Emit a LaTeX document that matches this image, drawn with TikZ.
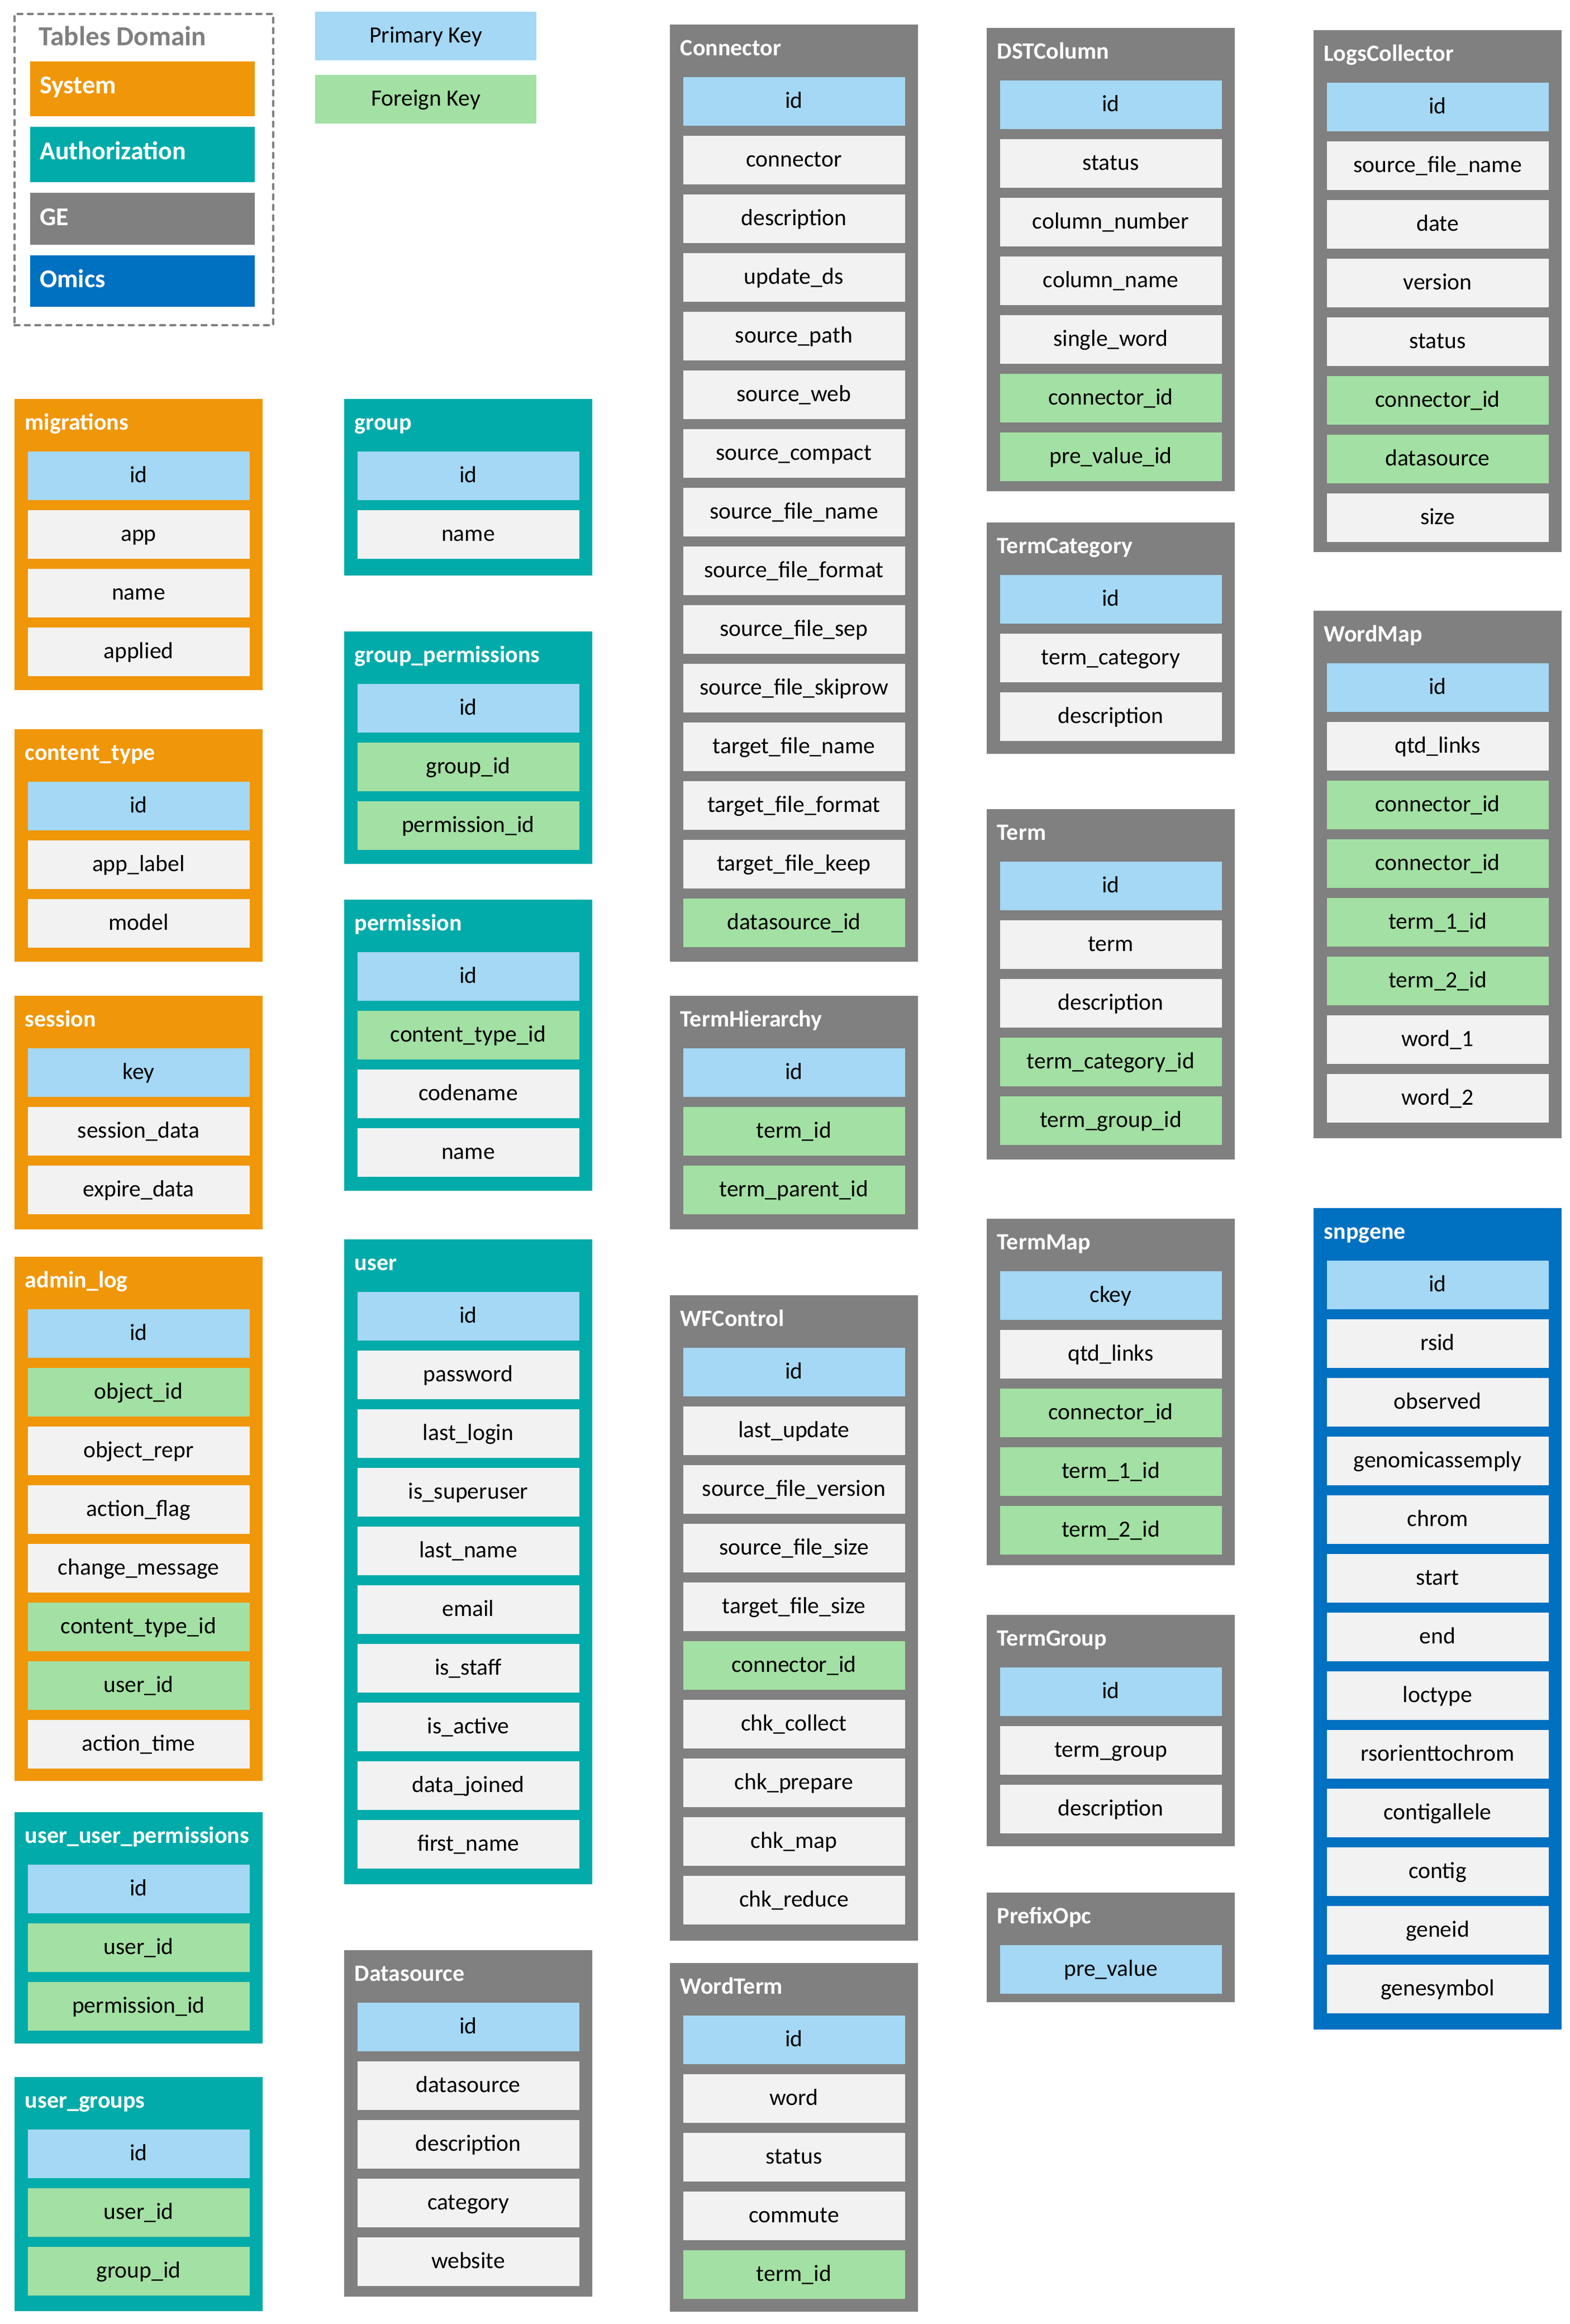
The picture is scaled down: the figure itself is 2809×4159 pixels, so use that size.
\documentclass[tikz,border=0pt]{standalone}
\usepackage{fontspec}
\setmainfont{Carlito}
\definecolor{sysc}{HTML}{F09609}
\definecolor{authc}{HTML}{00ABA9}
\definecolor{gec}{HTML}{808080}
\definecolor{omc}{HTML}{0070C0}
\definecolor{fldp}{HTML}{A4D8F4}
\definecolor{fldf}{HTML}{A3E0A3}
\definecolor{fldn}{HTML}{F2F2F2}
\tikzset{
  tbox/.style={anchor=north west, inner sep=0pt, outer sep=0pt, minimum width=111pt, draw=none},
  fieldbox/.style={inner sep=0pt, outer sep=0pt, minimum width=99.25pt, minimum height=21.75pt,
    text height=7.25pt, text depth=1.25pt, font=\fontsize{10.4}{12}\selectfont, text=black},
  ttitle/.style={anchor=base west, inner sep=0pt, text=white, font=\fontsize{10.5}{12}\selectfont\bfseries},
  legbox/.style={anchor=north west, inner sep=0pt, outer sep=0pt, minimum width=100.5pt, draw=none},
  leglabel/.style={anchor=base west, inner sep=0pt, text=white, font=\fontsize{11.5}{13}\selectfont\bfseries},
}
\newcommand{\dbtable}[7]{%
  \node[tbox, fill=#5, minimum height={(#4-#3)*0.25pt}] (#1) at (#2,#3) {};
  \node[ttitle] (#1-title) at (#2+18,#3+55) {#6};
  \foreach \ty/\fn [count=\i from 0] in {#7} {
    \node[fieldbox, fill=fld\ty] (#1-f\i) at (#2+222,#3+137.5+105*\i) {\fn};
  }%
}
\begin{document}
\begin{tikzpicture}[x=0.25pt,y=-0.25pt]
\useasboundingbox[fill=white] (0,0) rectangle (2809,4159);

% ---------- legend ----------
\node[draw=gec, line width=1pt, dash pattern=on 2.2pt off 2.45pt, line cap=round,
  anchor=north west, inner sep=0pt, minimum width={(487-24)*0.25pt}, minimum height={(580-22.5)*0.25pt}]
  (legend) at (24,22.5) {};
\node[anchor=base west, inner sep=0pt, text=gec, font=\fontsize{12.3}{14}\selectfont\bfseries]
  (legtitle) at (69,81.5) {Tables Domain};
\node[legbox, fill=sysc, minimum height={(208-109.5)*0.25pt}] (lsys) at (54,109.5) {};
\node[leglabel] (lsys-t) at (70.5,167.5) {System};
\node[legbox, fill=authc, minimum height={(326-227)*0.25pt}] (lauth) at (54,227) {};
\node[leglabel] (lauth-t) at (70.5,285) {Authorization};
\node[legbox, fill=gec, minimum height={(437.5-345)*0.25pt}] (lge) at (54,345) {};
\node[leglabel] (lge-t) at (70.5,403) {GE};
\node[legbox, fill=omc, minimum height={(549-456.5)*0.25pt}] (lom) at (54,456.5) {};
\node[leglabel] (lom-t) at (70.5,514.5) {Omics};
\node[fieldbox, fill=fldp, minimum width=99.1pt] (pk) at (762,64) {Primary Key};
\node[fieldbox, fill=fldf, minimum width=99.1pt] (fk) at (762,177.5) {Foreign Key};

% ---------- column 1 ----------
\dbtable{migrations}{26}{714}{1235}{sysc}{migrations}{p/id, n/app, n/name, n/applied}
\dbtable{contenttype}{26}{1305}{1721}{sysc}{content\_type}{p/id, n/app\_label, n/model}
\dbtable{session}{26}{1782}{2200}{sysc}{session}{p/key, n/session\_data, n/expire\_data}
\dbtable{adminlog}{26}{2249}{3187}{sysc}{admin\_log}{p/id, f/object\_id, n/object\_repr, n/action\_flag, n/change\_message, f/content\_type\_id, f/user\_id, n/action\_time}
\dbtable{uup}{26}{3243}{3657}{authc}{user\_user\_permissions}{p/id, f/user\_id, f/permission\_id}
\dbtable{usergroups}{26}{3717}{4136}{authc}{user\_groups}{p/id, f/user\_id, f/group\_id}

% ---------- column 2 ----------
\dbtable{group}{616}{714}{1030}{authc}{group}{p/id, n/name}
\dbtable{groupperm}{616}{1130}{1546}{authc}{group\_permissions}{p/id, f/group\_id, f/permission\_id}
\dbtable{permission}{616}{1610}{2131}{authc}{permission}{p/id, f/content\_type\_id, n/codename, n/name}
\dbtable{user}{616}{2218}{3372}{authc}{user}{p/id, n/password, n/last\_login, n/is\_superuser, n/last\_name, n/email, n/is\_staff, n/is\_active, n/data\_joined, n/first\_name}
\dbtable{datasource}{616}{3490}{4110}{gec}{Datasource}{p/id, n/datasource, n/description, n/category, n/website}

% ---------- column 3 ----------
\dbtable{connector}{1199}{44}{1721}{gec}{Connector}{p/id, n/connector, n/description, n/update\_ds, n/source\_path, n/source\_web, n/source\_compact, n/source\_file\_name, n/source\_file\_format, n/source\_file\_sep, n/source\_file\_skiprow, n/target\_file\_name, n/target\_file\_format, n/target\_file\_keep, f/datasource\_id}
\dbtable{termhier}{1199}{1782}{2200}{gec}{TermHierarchy}{p/id, f/term\_id, f/term\_parent\_id}
\dbtable{wfcontrol}{1199}{2318}{3473}{gec}{WFControl}{p/id, n/last\_update, n/source\_file\_version, n/source\_file\_size, n/target\_file\_size, f/connector\_id, n/chk\_collect, n/chk\_prepare, n/chk\_map, n/chk\_reduce}
\dbtable{wordterm}{1199}{3513}{4137}{gec}{WordTerm}{p/id, n/word, n/status, n/commute, f/term\_id}

% ---------- column 4 ----------
\dbtable{dstcolumn}{1766}{50}{879}{gec}{DSTColumn}{p/id, n/status, n/column\_number, n/column\_name, n/single\_word, f/connector\_id, f/pre\_value\_id}
\dbtable{termcat}{1766}{935}{1349}{gec}{TermCategory}{p/id, n/term\_category, n/description}
\dbtable{term}{1766}{1448}{2075}{gec}{Term}{p/id, n/term, n/description, f/term\_category\_id, f/term\_group\_id}
\dbtable{termmap}{1766}{2181}{2801}{gec}{TermMap}{p/ckey, n/qtd\_links, f/connector\_id, f/term\_1\_id, f/term\_2\_id}
\dbtable{termgroup}{1766}{2890}{3304}{gec}{TermGroup}{p/id, n/term\_group, n/description}
\dbtable{prefixopc}{1766}{3387}{3583}{gec}{PrefixOpc}{p/pre\_value}

% ---------- column 5 ----------
\dbtable{logscoll}{2351}{54}{988}{gec}{LogsCollector}{p/id, n/source\_file\_name, n/date, n/version, n/status, f/connector\_id, f/datasource, n/size}
\dbtable{wordmap}{2351}{1093}{2037}{gec}{WordMap}{p/id, n/qtd\_links, f/connector\_id, f/connector\_id, f/term\_1\_id, f/term\_2\_id, n/word\_1, n/word\_2}
\dbtable{snpgene}{2351}{2162}{3632}{omc}{snpgene}{p/id, n/rsid, n/observed, n/genomicassemply, n/chrom, n/start, n/end, n/loctype, n/rsorienttochrom, n/contigallele, n/contig, n/geneid, n/genesymbol}
\end{tikzpicture}
\end{document}
